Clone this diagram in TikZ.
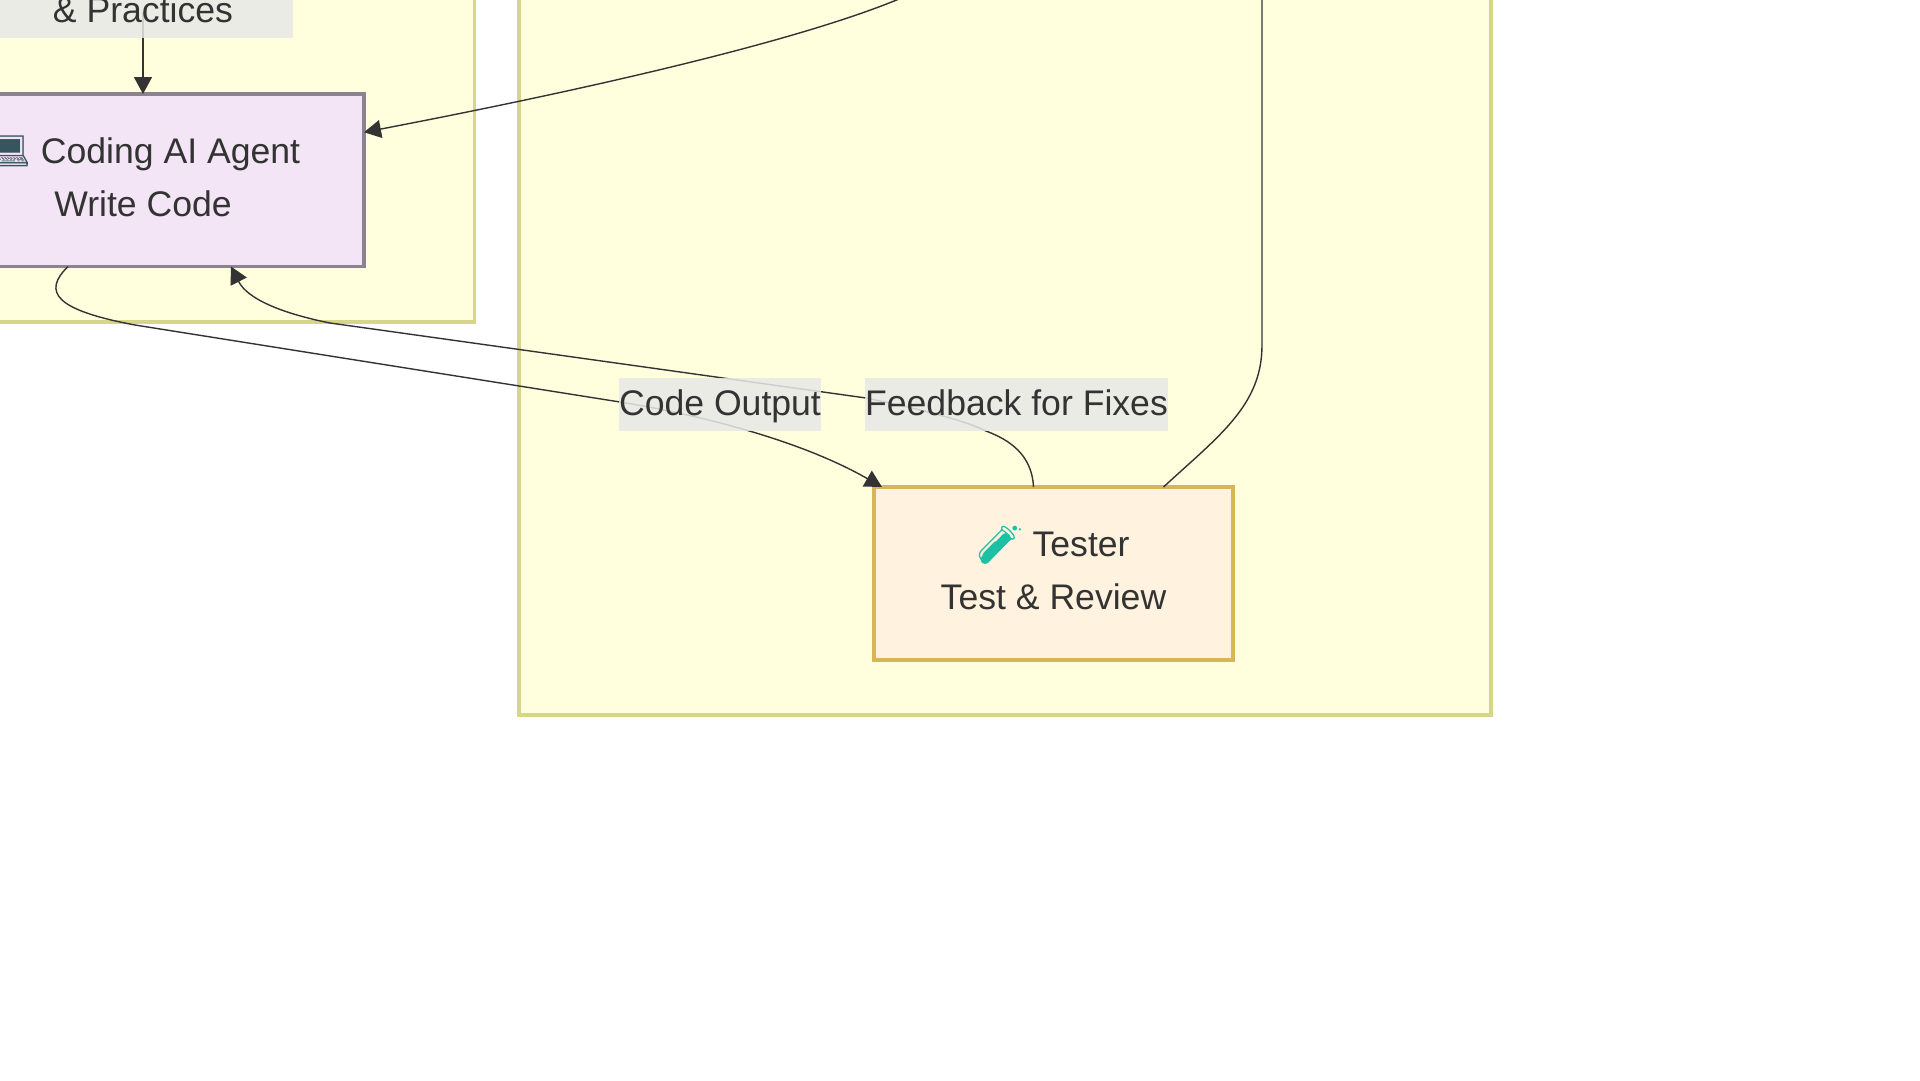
\documentclass[tikz,border=0pt]{standalone}
\usepackage{fontspec}
\setmainfont{Liberation Sans}
\newfontfamily\emojifont{Noto Emoji}
\usetikzlibrary{arrows.meta,backgrounds}
\pgfdeclarelayer{labels}
\pgfsetlayers{main,labels}
\definecolor{ink}{HTML}{333333}
\definecolor{clusterfill}{HTML}{FFFFDE}
\definecolor{clusterline}{HTML}{D6D68A}
\definecolor{codefill}{HTML}{F3E5F5}
\definecolor{codeline}{HTML}{8B8490}
\definecolor{testfill}{HTML}{FFF3E0}
\definecolor{testline}{HTML}{D6B656}
\definecolor{labelfill}{HTML}{E8E8E8}
\definecolor{tube}{HTML}{1DBFA5}
\definecolor{laptop}{HTML}{37555F}
\tikzset{
  x=1pt,y=-1pt,
  txt/.style={text=ink,font=\fontsize{35.6}{53}\selectfont,align=center},
  cluster/.style={draw=clusterline,fill=clusterfill,line width=3.2pt},
  box/.style={txt,rectangle,line width=3.6pt,inner sep=0pt,outer sep=0pt,text depth=6.5pt},
  edgelabel/.style={txt,rectangle,fill=labelfill,fill opacity=.85,text opacity=1,inner sep=0pt,outer sep=0pt,minimum height=53pt,text height=28pt,text depth=7pt},
  conn/.style={draw=ink,line width=1.4pt},
  arrowconn/.style={conn,-{Triangle[length=17pt,width=18pt,color=ink]}}
}
\begin{document}
\begin{tikzpicture}
\path[use as bounding box,clip] (0,0) rectangle (1920,1080);
\fill[white] (0,0) rectangle (1920,1080);
% clusters
\path[cluster] (-60,-60) rectangle (474.5,322);
\path[cluster] (519,-60) rectangle (1491,715);
% boxes
\node[box,draw=codeline,fill=codefill,minimum width=442pt,minimum height=172.5pt] (coding) at (143,180.25)
  {\raisebox{0pt}[26pt][8pt]{\emojifont\textcolor{laptop}{💻}} Coding AI Agent\\Write Code};
\node[box,draw=testline,fill=testfill,minimum width=359pt,minimum height=173pt] (tester) at (1053.5,573.5)
  {\raisebox{0pt}[26pt][8pt]{\emojifont\textcolor{tube}{🧪}} Tester\\Test \& Review};
\draw[tube,line width=9pt,line cap=round] (985,559.5) -- (1006,537.5);
% labels above connectors
\begin{pgfonlayer}{labels}
\node[edgelabel,minimum width=300pt] (practices) at (143,11.5) {\& Practices};
\node[edgelabel,minimum width=200pt] (codeout) at (720,404.5) {Code Output};
\node[edgelabel,minimum width=301pt] (feedback) at (1016.5,404.5) {Feedback for Fixes};
\end{pgfonlayer}
% free ends leaving the picture
\coordinate (upperA) at (899,-1);
\coordinate (upperB) at (1262,-1);
% connectors
\draw[arrowconn] (practices.center) -- (coding.north);
\draw[arrowconn] (upperA) .. controls (800,40) and (600,87) .. ([yshift=48pt]coding.east);
\draw[conn] (upperB) -- (1262,345) .. controls (1262,405) and (1220,435) .. ([xshift=110pt]tester.north);
\draw[arrowconn] ([xshift=-75pt]coding.south) .. controls (42,292) and (55,310) .. (135,325)
  -- (620,402) .. controls (700,415) and (800,440) .. ([xshift=8pt]tester.north west);
\draw[arrowconn] ([xshift=-20pt]tester.north) .. controls (1032,455) and (1010,440) .. (986,431)
  .. controls (960,418) and (900,405) .. (866,398) -- (330,323) .. controls (285,314) and (248,300) .. ([xshift=88pt]coding.south);
\end{tikzpicture}
\end{document}
